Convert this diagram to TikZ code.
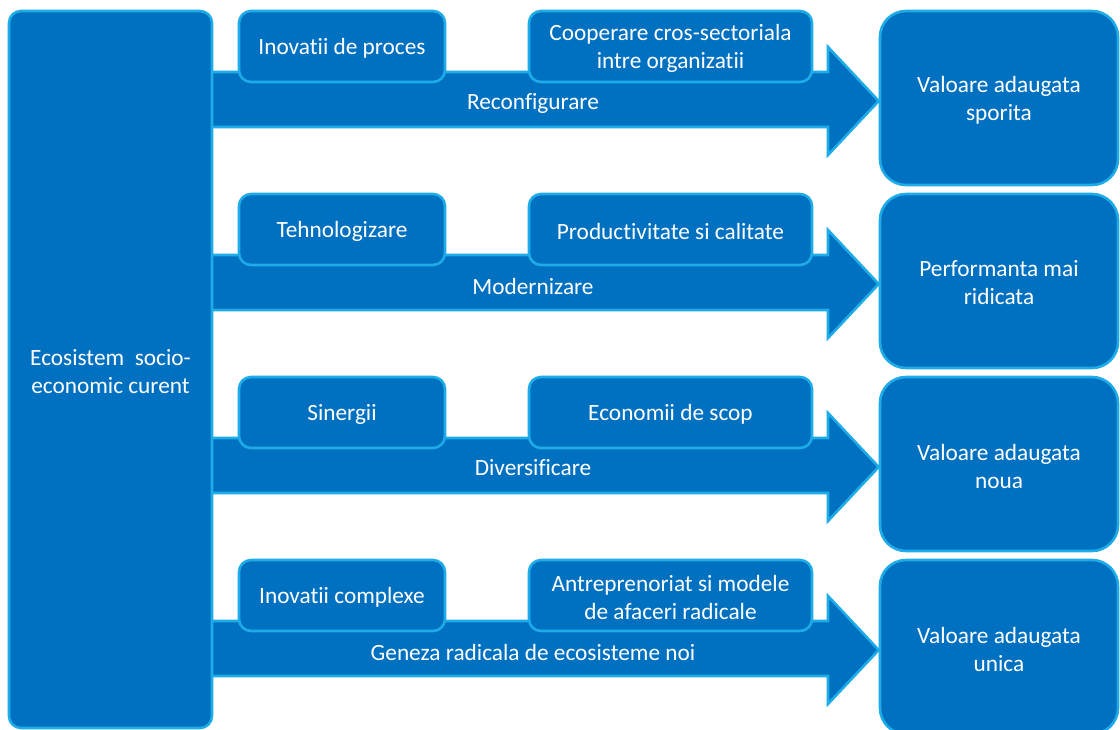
\documentclass[tikz,border=0pt]{standalone}
\usepackage{fontspec}
\setmainfont{Carlito}[RawFeature={-liga;-clig}]
\definecolor{boxfill}{HTML}{0070C0}
\definecolor{boxline}{HTML}{1EACE8}
\begin{document}
\begin{tikzpicture}[x=1pt,y=-1pt,
  every node/.style={inner sep=0pt},
  txt/.style={text=white, font=\fontsize{23.3}{28}\selectfont, align=center},
  blk/.style={fill=boxfill, draw=boxline, line width=2.6pt},
  smallbox/.style={blk, rounded corners=12pt, minimum height=71pt},
  valbox/.style={blk, rounded corners=26pt, minimum width=238pt, minimum height=174pt},
  band/.style={blk, line join=miter}]
\clip (0,0) rectangle (1120,729);
\useasboundingbox (0,0) rectangle (1120,729);
\fill[white] (0,0) rectangle (1120,729);
% targets
\foreach \i/\r in {1/0,2/183,3/366,4/549}{
  \node[valbox] (val\i) at (999,98+\r) {};
}
% band arrows
\foreach \i/\r in {1/0,2/183,3/366,4/549}{
  \draw[band] (200,72+\r) -- (828,72+\r) -- (828,47+\r) -- (val\i.west |- 0,101+\r) -- (828,155+\r) -- (828,127+\r) -- (200,127+\r);
}
% source
\node[blk, rounded corners=12pt, minimum width=203pt, minimum height=717pt] (eco) at (110.5,369.5) {};
\node[txt] (ecot) at ([yshift=-2pt]eco.center) {Ecosistem\ \ socio-\\economic curent};
% small boxes
\node[smallbox, minimum width=206pt] (a1) at (342,46.5) {};
\node[smallbox, minimum width=283pt] (b1) at (670.5,46.5) {};
\node[smallbox, minimum width=206pt] (a2) at (342,229.5) {};
\node[smallbox, minimum width=283pt] (b2) at (670.5,229.5) {};
\node[smallbox, minimum width=206pt] (a3) at (342,412.5) {};
\node[smallbox, minimum width=283pt] (b3) at (670.5,412.5) {};
\node[smallbox, minimum width=206pt] (a4) at (342,595.5) {};
\node[smallbox, minimum width=283pt] (b4) at (670.5,595.5) {};
\node[txt] (a1t) at ([yshift=-2pt]a1.center) {Inovatii de proces};
\node[txt] (b1t) at ([yshift=-2pt]b1.center) {Cooperare cros-sectoriala\\intre organizatii};
\node[txt] (a2t) at ([yshift=-2pt]a2.center) {Tehnologizare};
\node[txt] (b2t) at ([yshift=-2pt]b2.center) {Productivitate si calitate};
\node[txt] (a3t) at ([yshift=-2pt]a3.center) {Sinergii};
\node[txt] (b3t) at ([yshift=-2pt]b3.center) {Economii de scop};
\node[txt] (a4t) at ([yshift=-2pt]a4.center) {Inovatii complexe};
\node[txt] (b4t) at ([yshift=-2pt]b4.center) {Antreprenoriat si modele\\de afaceri radicale};
% band labels
\node[txt] (l1) at (533,103) {Reconfigurare};
\node[txt] (l2) at (533,286) {Modernizare};
\node[txt] (l3) at (533,468) {Diversificare};
\node[txt] (l4) at (533,652) {Geneza radicala de ecosisteme noi};
% target labels
\node[txt] (t1) at ([yshift=-2pt]val1.center) {Valoare adaugata\\sporita};
\node[txt] (t2) at ([yshift=-2pt]val2.center) {Performanta mai\\ridicata};
\node[txt] (t3) at ([yshift=-2pt]val3.center) {Valoare adaugata\\noua};
\node[txt] (t4) at ([yshift=-2pt]val4.center) {Valoare adaugata\\unica};
\end{tikzpicture}
\end{document}
